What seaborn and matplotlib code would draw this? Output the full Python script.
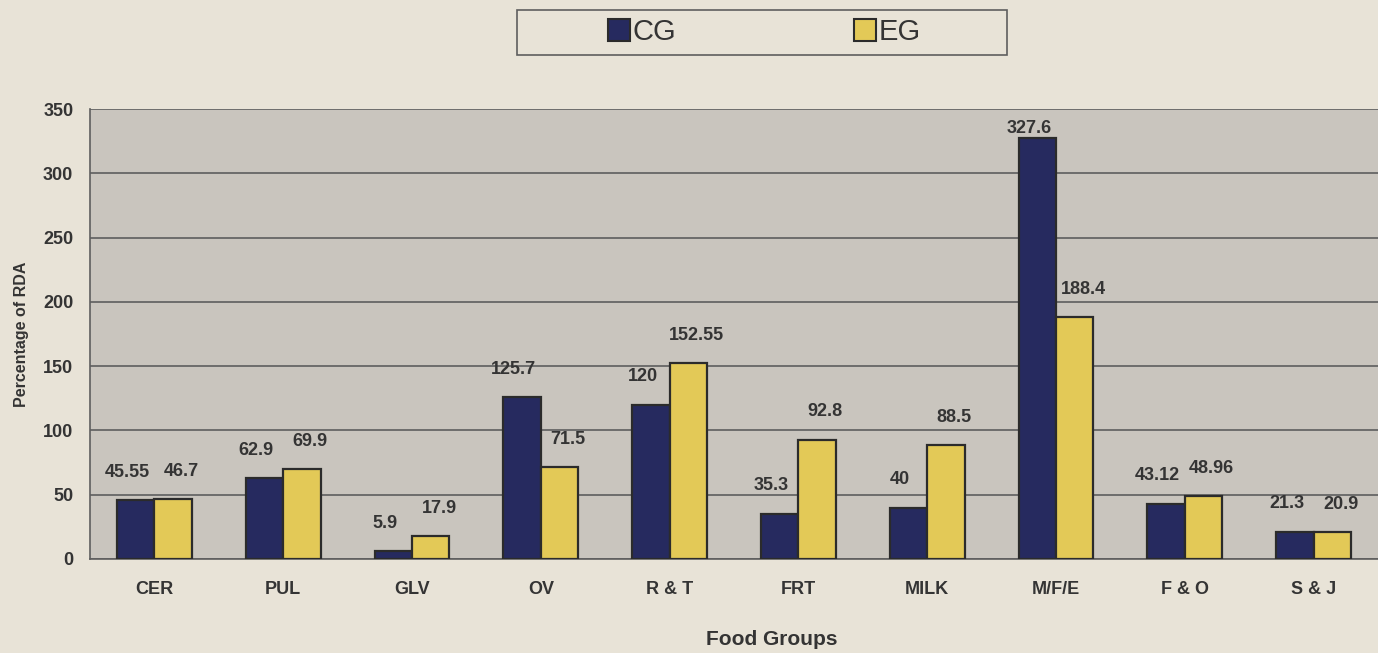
import pandas as pd
import matplotlib.pyplot as plt
import seaborn as sns
import numpy as np
from matplotlib.patches import Patch, Rectangle

# Data
food_groups = ['CER', 'PUL', 'GLV', 'OV', 'R & T', 'FRT', 'MILK', 'M/F/E', 'F & O', 'S & J']
cg_values = [45.55, 62.9, 5.9, 125.7, 120, 35.3, 40, 327.6, 43.12, 21.3]
eg_values = [46.7, 69.9, 17.9, 71.5, 152.55, 92.8, 88.5, 188.4, 48.96, 20.9]
cg_labels = ['45.55', '62.9', '5.9', '125.7', '120', '35.3', '40', '327.6', '43.12', '21.3']
eg_labels = ['46.7', '69.9', '17.9', '71.5', '152.55', '92.8', '88.5', '188.4', '48.96', '20.9']

NAVY = '#262a5f'
YELLOW = '#e3c957'
EDGE = '#2b2b2b'
TEXT = '#343434'
FIG_BG = '#e8e3d7'

df = pd.DataFrame({
    'Food Group': food_groups * 2,
    'Value': cg_values + eg_values,
    'Group': ['CG'] * len(cg_values) + ['EG'] * len(eg_values),
})

sns.set_style('white')
plt.rcParams['font.family'] = ['Liberation Sans', 'DejaVu Sans']

fig = plt.figure(figsize=(13.78, 6.53), dpi=100, facecolor=FIG_BG)
ax = fig.add_axes([0.0653, 0.144, 0.9347, 0.689])
ax.set_facecolor('#c9c5be')

sns.barplot(data=df, x='Food Group', y='Value', hue='Group', order=food_groups,
            palette=[NAVY, YELLOW], saturation=1, width=0.58, gap=0,
            edgecolor=EDGE, linewidth=1.6, ax=ax, legend=False, zorder=3)

# value labels, a little above each bar, spread outward in each pair
n = len(food_groups)
for i, cont in enumerate(ax.containers):
    labels = cg_labels if i == 0 else eg_labels
    dx = -6 if i == 0 else 6
    for bar, lab in zip(cont, labels):
        x = bar.get_x() + bar.get_width() / 2
        y = min(bar.get_height() + 15, 328)
        ax.annotate(lab, (x, y), xytext=(dx, 0), textcoords='offset points',
                    ha='center', va='bottom', fontsize=13, fontweight='bold',
                    color=TEXT, zorder=4)

ax.set_ylim(0, 350)
ax.set_yticks(np.arange(0, 351, 50))
ax.set_xlim(-0.5, n - 0.5)
ax.yaxis.grid(True, color='#5e5e5e', linewidth=1.2, zorder=0)
ax.set_axisbelow(True)

# tick marks between categories
ax.set_xticks(np.arange(-0.5, n, 1), minor=True)
ax.tick_params(axis='x', which='major', length=0, pad=16)
ax.tick_params(axis='x', which='minor', length=5, color='#5e5e5e', direction='out')
ax.tick_params(axis='y', length=5, color='#5e5e5e', direction='out', pad=7)
for lab in ax.get_xticklabels() + ax.get_yticklabels():
    lab.set_fontsize(13)
    lab.set_fontweight('bold')
    lab.set_color(TEXT)

for side in ['top', 'right']:
    ax.spines[side].set_visible(False)
for side in ['left', 'bottom']:
    ax.spines[side].set_color('#5e5e5e')
    ax.spines[side].set_linewidth(1.2)

ax.set_xlabel('Food Groups', fontsize=15, fontweight='bold', color=TEXT)
ax.xaxis.set_label_coords(0.529, -0.158)
ax.set_ylabel('Percentage of RDA', fontsize=11.5, fontweight='bold', color=TEXT, labelpad=10)

# legend box at the top
fig.patches.append(Rectangle((0.3752, 0.9158), 0.3556, 0.0689, transform=fig.transFigure,
                             facecolor=FIG_BG, edgecolor='#5e5e5e', linewidth=1.2, zorder=0))
handles = [Patch(facecolor=NAVY, edgecolor=EDGE, linewidth=1.5, label='CG'),
           Patch(facecolor=YELLOW, edgecolor=EDGE, linewidth=1.5, label='EG')]
leg = fig.legend(handles=handles, loc='center left', bbox_to_anchor=(0.4412, 0.951),
                 ncol=2, frameon=False, handlelength=0.75, handleheight=0.75,
                 handletextpad=0.1, columnspacing=6.1, borderpad=0, borderaxespad=0,
                 prop={'family': 'Liberation Sans', 'size': 21})
for t in leg.get_texts():
    t.set_color(TEXT)

fig.savefig('out.png', dpi=100, facecolor=fig.get_facecolor())
